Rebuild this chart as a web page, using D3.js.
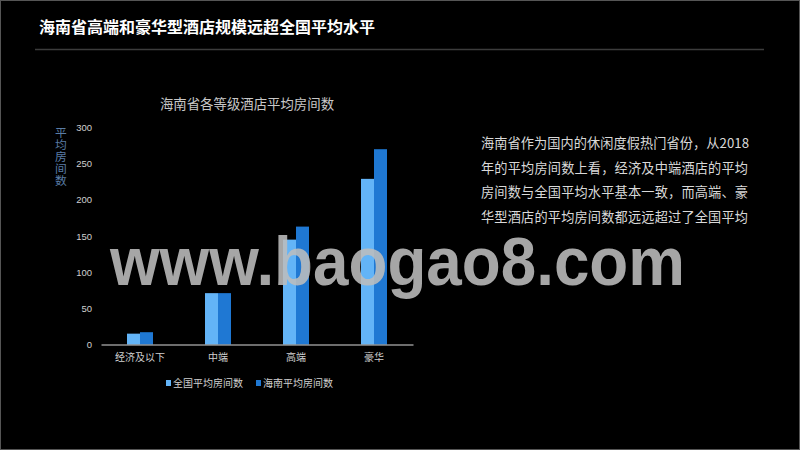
<!DOCTYPE html>
<html>
<head>
<meta charset="utf-8">
<script src="https://cdn.jsdelivr.net/npm/d3@7"></script>
<style>
  body { margin: 0; background: #000; }
  svg { display: block; font-family: "Noto Sans CJK SC", "Noto Sans", sans-serif; }
</style>
</head>
<body>
<svg id="chart" width="800" height="450"></svg>
<script>
// data
const categories = ['经济及以下', '中端', '高端', '豪华'];
const seriesNames = ['全国平均房间数', '海南平均房间数'];
const nationalAvg = [15, 71, 145, 229];
const hainanAvg = [17, 71, 163, 270];
const yTicks = [0, 50, 100, 150, 200, 250, 300];
const colors = ['#63b4f7', '#1f78d3'];
const noteLines = [
  '海南省作为国内的休闲度假热门省份，从2018',
  '年的平均房间数上看，经济及中端酒店的平均',
  '房间数与全国平均水平基本一致，而高端、豪',
  '华型酒店的平均房间数都远远超过了全国平均'
];

const svg = d3.select('#chart');

// frame + header
svg.append('rect').attr('x', 0.5).attr('y', 0.5).attr('width', 799).attr('height', 449)
  .attr('fill', '#000').attr('stroke', '#555');
svg.append('text').attr('x', 39).attr('y', 33)
  .attr('fill', '#fff').attr('font-size', 15.5).attr('font-weight', 'bold')
  .attr('textLength', 336).attr('lengthAdjust', 'spacingAndGlyphs')
  .text('海南省高端和豪华型酒店规模远超全国平均水平');
svg.append('line').attr('x1', 35).attr('x2', 764).attr('y1', 49.5).attr('y2', 49.5)
  .attr('stroke', '#3c3c3c').attr('stroke-width', 1.5);

// chart
const plotL = 101, plotR = 413, plotT = 127.5, plotB = 344.5;
const y = d3.scaleLinear().domain([0, 300]).range([plotB, plotT]);
const x0 = d3.scaleBand().domain(categories).range([plotL, plotR]);
const barW = 13;
const x1 = d3.scaleBand().domain(seriesNames)
  .range([x0.bandwidth() / 2 - barW, x0.bandwidth() / 2 + barW]);

svg.append('text').attr('x', 247).attr('y', 109).attr('text-anchor', 'middle')
  .attr('fill', '#c8c8c8').attr('font-size', 13.4).text('海南省各等级酒店平均房间数');

// y title, vertical
svg.append('text').attr('x', 61).attr('y', 127)
  .attr('fill', '#5a7da6').attr('font-size', 11.8)
  .style('writing-mode', 'vertical-rl').style('text-orientation', 'upright')
  .text('平均房间数');

const yAxis = svg.append('g').attr('transform', `translate(${plotL},0)`)
  .call(d3.axisLeft(y).tickValues(yTicks).tickSize(0).tickPadding(9));
yAxis.select('.domain').remove();
yAxis.selectAll('text').attr('fill', '#d0d0d0').attr('font-size', 9.5)
  .attr('font-family', '"Liberation Sans", sans-serif');

const rows = categories.map((c, i) => ({ cat: c, vals: [nationalAvg[i], hainanAvg[i]] }));
svg.append('g').selectAll('g').data(rows).join('g')
  .attr('transform', d => `translate(${x0(d.cat)},0)`)
  .selectAll('rect').data(d => d.vals.map((v, j) => ({ name: seriesNames[j], v, j })))
  .join('rect')
  .attr('x', d => x1(d.name))
  .attr('width', x1.bandwidth())
  .attr('y', d => y(d.v))
  .attr('height', d => y(0) - y(d.v))
  .attr('fill', d => colors[d.j]);

const xAxis = svg.append('g').attr('transform', `translate(0,${plotB})`)
  .call(d3.axisBottom(x0).tickSize(0).tickPadding(9));
xAxis.select('.domain').attr('stroke', '#d9d9d9').attr('stroke-width', 1.2);
xAxis.selectAll('text').attr('fill', '#d0d0d0').attr('font-size', 10)
  .attr('font-family', '"Noto Sans CJK SC", sans-serif');

// legend
const legendX = [166, 256];
const lg = svg.append('g').selectAll('g').data(seriesNames).join('g')
  .attr('transform', (d, i) => `translate(${legendX[i]},383)`);
lg.append('rect').attr('x', 0).attr('y', -3).attr('width', 5).attr('height', 6)
  .attr('fill', (d, i) => colors[i]);
lg.append('text').attr('x', 7).attr('y', 4).attr('fill', '#d0d0d0').attr('font-size', 10)
  .text(d => d);

// side note
svg.append('g').selectAll('text').data(noteLines).join('text')
  .attr('x', 481).attr('y', (d, i) => 148 + i * 24.7)
  .attr('fill', '#d9d9d9').attr('font-size', 13.2)
  .attr('textLength', (d, i) => i === 0 ? 268 : 267).attr('lengthAdjust', 'spacing')
  .text(d => d);

// watermark
svg.append('text').attr('x', 110).attr('y', 285)
  .attr('font-family', '"Liberation Sans", Arial, sans-serif').attr('font-weight', 'bold')
  .attr('font-size', 69).attr('fill', '#bdbdbd').attr('fill-opacity', 0.88)
  .attr('textLength', 575).attr('lengthAdjust', 'spacingAndGlyphs')
  .text('www.baogao8.com');
</script>
</body>
</html>
